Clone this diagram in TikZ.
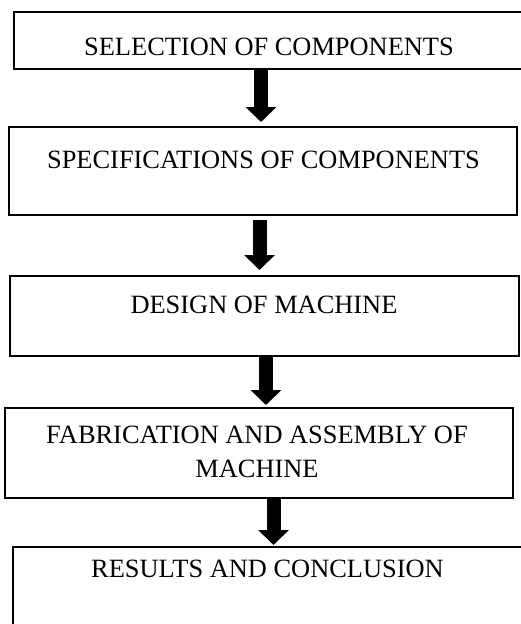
\documentclass[tikz,border=0pt]{standalone}
\usepackage{fontspec}
\setmainfont{Liberation Serif}
\usetikzlibrary{arrows.meta}
\tikzset{
  box/.style={draw=black, line width=2.5pt, rectangle, inner sep=0pt, outer sep=0pt, fill=none},
  txt/.style={inner sep=0pt, outer sep=0pt, font=\fontsize{26.4}{34}\selectfont, align=center},
  blk/.style={line width=14pt, -{Triangle[width=30pt,length=15pt]}}
}
\begin{document}
\begin{tikzpicture}[x=1pt,y=-1pt]
\useasboundingbox (0,0) rectangle (521,624);
% boxes
\node[box, anchor=north west, minimum width=530pt, minimum height=57pt] (b1) at (14,12) {};
\node[box, anchor=north west, minimum width=508pt, minimum height=88pt] (b2) at (9,127) {};
\node[box, anchor=north west, minimum width=509pt, minimum height=80pt] (b3) at (10,276) {};
\node[box, anchor=north west, minimum width=508pt, minimum height=90pt] (b4) at (5,408) {};
\node[box, anchor=north west, minimum width=530pt, minimum height=100pt] (b5) at (13,547) {};
% texts
\node[txt, anchor=base] (t1) at (269,55) {SELECTION OF COMPONENTS};
\node[txt, anchor=base] (t2) at (263.5,168) {SPECIFICATIONS OF COMPONENTS};
\node[txt, anchor=base] (t3) at (264,313) {DESIGN OF MACHINE};
\node[txt, anchor=base] (t4) at (257,477) {FABRICATION AND ASSEMBLY OF\\MACHINE};
\node[txt, anchor=base] (t5) at (267.5,577) {RESULTS AND CONCLUSION};
% arrows
\coordinate (x1) at (261,0);
\coordinate (x2) at (259.5,0);
\coordinate (x3) at (266,0);
\coordinate (x4) at (273.5,0);
\draw[blk, shorten <=1pt, shorten >=5pt] (x1 |- b1.south) -- (x1 |- b2.north);
\draw[blk, shorten <=5pt, shorten >=6pt] (x2 |- b2.south) -- (x2 |- b3.north);
\draw[blk, shorten >=3pt] (x3 |- b3.south) -- (x3 |- b4.north);
\draw[blk, shorten >=2pt] (x4 |- b4.south) -- (x4 |- b5.north);
\end{tikzpicture}
\end{document}
